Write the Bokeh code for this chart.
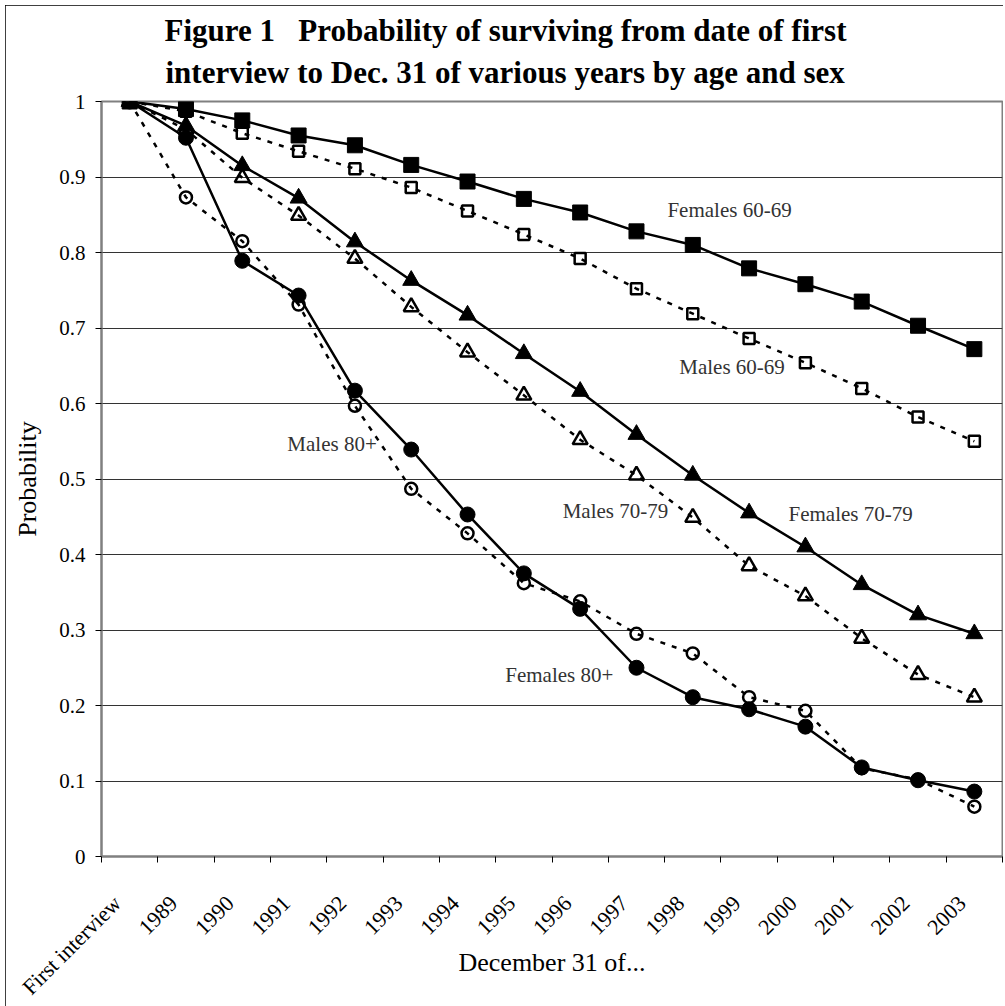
import math
from bokeh.plotting import figure
from bokeh.models import Range1d, FixedTicker, Label, NumeralTickFormatter, Title
from bokeh.embed import file_html
from bokeh.resources import INLINE

categories = ["First interview", "1989", "1990", "1991", "1992", "1993", "1994", "1995",
              "1996", "1997", "1998", "1999", "2000", "2001", "2002", "2003"]

females_60_69 = [1.0, 0.990, 0.975, 0.955, 0.942, 0.916, 0.894, 0.871, 0.853, 0.828, 0.810, 0.779, 0.758, 0.735, 0.703, 0.672]
males_60_69 = [1.0, 0.987, 0.958, 0.934, 0.911, 0.886, 0.855, 0.824, 0.792, 0.752, 0.719, 0.686, 0.654, 0.620, 0.582, 0.550]
females_70_79 = [1.0, 0.968, 0.915, 0.872, 0.814, 0.763, 0.717, 0.666, 0.616, 0.559, 0.505, 0.455, 0.410, 0.360, 0.320, 0.295]
males_70_79 = [1.0, 0.963, 0.899, 0.849, 0.792, 0.728, 0.668, 0.611, 0.552, 0.505, 0.449, 0.385, 0.345, 0.289, 0.241, 0.211]
females_80_plus = [1.0, 0.952, 0.789, 0.743, 0.617, 0.539, 0.453, 0.375, 0.328, 0.250, 0.211, 0.195, 0.172, 0.118, 0.101, 0.086]
males_80_plus = [1.0, 0.873, 0.815, 0.731, 0.597, 0.487, 0.428, 0.362, 0.338, 0.295, 0.269, 0.211, 0.193, 0.117, 0.102, 0.066]

y_ticks = [0, 0.1, 0.2, 0.3, 0.4, 0.5, 0.6, 0.7, 0.8, 0.9, 1.0]

series_labels = ["Females 60-69", "Males 60-69", "Males 80+", "Males 70-79", "Females 70-79", "Females 80+"]
series_label_pos = [(10.05, 0.856), (10.26, 0.648), (3.30, 0.546), (8.19, 0.458), (12.20, 0.453), (7.17, 0.241)]

title_lines = ["Figure 1\u00a0\u00a0 Probability of surviving from date of first",
               "interview to Dec. 31 of various years by age and sex"]

FONT = "Liberation Serif"

n = len(categories)
x_centers = [i + 0.5 for i in range(n)]
x_bounds = [float(i) for i in range(n + 1)]
LABEL_SHIFT = 0.22  # Excel-like placement of the rotated category labels
x_label_pos = [c - LABEL_SHIFT for c in x_centers]

p = figure(width=998, height=1001, x_range=Range1d(0, n), y_range=Range1d(0, 1),
           output_backend="svg", toolbar_location=None,
           min_border_left=96, min_border_right=1, min_border_top=96, min_border_bottom=150)
p.styles = {"margin-left": "5px", "margin-top": "5px",
            "outline": "1.5px solid black", "outline-offset": "-1.5px"}
p.background_fill_color = "white"
p.border_fill_color = "white"
p.outline_line_color = "#808080"
p.outline_line_width = 2

# titles: p.title sits on top, added Title is closest to the frame
p.title.text = title_lines[0]
p.title.align = "left"
p.title.offset = 63
p.title.standoff = -12
p.title.text_font = FONT
p.title.text_font_size = "31px"
p.title.text_font_style = "bold"
p.title.text_color = "black"
p.add_layout(Title(text=title_lines[1], align="left", offset=64, standoff=23,
                   text_font=FONT, text_font_size="31px", text_font_style="bold",
                   text_color="black"), "above")

# y axis
p.yaxis.ticker = FixedTicker(ticks=y_ticks)
p.yaxis.formatter = NumeralTickFormatter(format="0.[0]")
p.yaxis.axis_line_color = "#808080"
p.yaxis.axis_line_width = 2
p.yaxis.major_tick_out = 6
p.yaxis.major_tick_in = 0
p.yaxis.minor_tick_out = 0
p.yaxis.minor_tick_in = 0
p.yaxis.major_tick_line_color = "black"
p.yaxis.major_label_text_font = FONT
p.yaxis.major_label_text_font_size = "21px"
p.yaxis.major_label_text_color = "black"
p.yaxis.major_label_standoff = 10
p.yaxis.axis_label = "Probability"
p.yaxis.axis_label_text_font = FONT
p.yaxis.axis_label_text_font_style = "normal"
p.yaxis.axis_label_text_font_size = "26px"
p.yaxis.axis_label_text_color = "black"
p.yaxis.axis_label_standoff = 14

# x axis
p.xaxis.ticker = FixedTicker(ticks=x_label_pos, minor_ticks=x_bounds)
p.xaxis.major_label_overrides = {c: lab for c, lab in zip(x_label_pos, categories)}
p.xaxis.axis_line_color = "#808080"
p.xaxis.axis_line_width = 2
p.xaxis.major_tick_out = 0
p.xaxis.major_tick_in = 0
p.xaxis.minor_tick_out = 6
p.xaxis.minor_tick_in = 0
p.xaxis.minor_tick_line_color = "black"
p.xaxis.major_label_orientation = math.pi / 4
p.xaxis.major_label_text_font = FONT
p.xaxis.major_label_text_font_size = "22px"
p.xaxis.major_label_text_color = "black"
p.xaxis.major_label_standoff = 37
p.xaxis.axis_label = "December 31 of..."
p.xaxis.axis_label_text_font = FONT
p.xaxis.axis_label_text_font_style = "normal"
p.xaxis.axis_label_text_font_size = "26px"
p.xaxis.axis_label_text_color = "black"
p.xaxis.axis_label_standoff = -63

p.xgrid.visible = False
p.ygrid.ticker = FixedTicker(ticks=y_ticks)
p.ygrid.grid_line_color = "#333333"
p.ygrid.grid_line_width = 1

DASH = "5 7"

def add_series(vals, marker, filled, dashed, size, lw_marker):
    p.line(x_centers, vals, line_color="black", line_width=2.5,
           line_dash=DASH if dashed else "solid")
    if filled:
        p.scatter(x_centers, vals, marker=marker, size=size, fill_color="black",
                  line_color="black", line_width=1)
    else:
        p.scatter(x_centers, vals, marker=marker, size=size, fill_alpha=0,
                  line_color="black", line_width=lw_marker)

add_series(males_80_plus, "circle", False, True, 12, 2.5)
add_series(males_70_79, "triangle", False, True, 15, 2.5)
add_series(males_60_69, "square", False, True, 11, 2.5)
add_series(females_80_plus, "circle", True, False, 15, 1)
add_series(females_70_79, "triangle", True, False, 17, 1)
add_series(females_60_69, "square", True, False, 15, 1)

for lab, (lx, ly) in zip(series_labels, series_label_pos):
    p.add_layout(Label(x=lx, y=ly, text=lab, text_font=FONT, text_font_size="21px",
                       text_color="#333333", text_align="left", text_baseline="middle"))

open("out.html", "w").write(file_html(p, INLINE))
